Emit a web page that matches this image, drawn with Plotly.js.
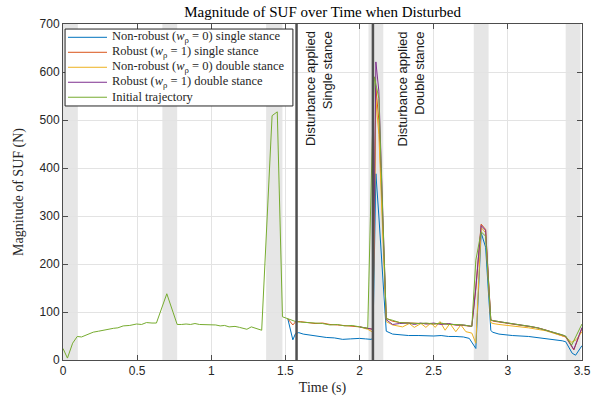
<!DOCTYPE html>
<html>
<head>
<meta charset="utf-8">
<script src="https://cdn.plot.ly/plotly-3.0.1.min.js"></script>
<style>html,body{margin:0;padding:0;background:#fff;}#chart{width:603px;height:401px;}</style>
</head>
<body>
<div id="chart"></div>
<script>
// ---- Data ----
const seriesNames = [
  "Non-robust (<i>w</i><sub>ρ</sub> = 0) single stance",
  "Robust (<i>w</i><sub>ρ</sub> = 1) single stance",
  "Non-robust (<i>w</i><sub>ρ</sub> = 0) double stance",
  "Robust (<i>w</i><sub>ρ</sub> = 1) double stance",
  "Initial trajectory"
];

// Initial trajectory
const tInit = [0,0.03,0.065,0.096,0.125,0.16,0.204,0.24,0.27,0.31,0.34,0.37,0.406,0.45,0.496,0.53,0.563,0.6,0.63,0.70,0.77,0.8,0.83,0.86,0.89,0.92,0.95,0.99,1.03,1.06,1.09,1.12,1.16,1.19,1.24,1.27,1.30,1.34,1.41,1.445,1.48,1.516,1.55,1.57,1.6,1.65,1.7,1.75,1.8,1.85,1.9,1.95,2.0,2.055,2.085,2.1,2.13,2.18,2.22,2.27,2.33,2.4,2.45,2.5,2.55,2.6,2.65,2.7,2.757,2.784,2.82,2.85,2.885,2.9,2.94,3.0,3.05,3.1,3.15,3.2,3.25,3.3,3.37,3.39,3.43,3.5];
const vInit = [24,4,35,49,48,53,58,60,62,64,66,67,71,72,75,74,78,77,77,138,74,74,75,74,76,74,74,73,73,71,72,69,70,68,64,69,66,62,509,517,90,86,81,80,79,78,77,76,73,74,71,72,69,66,450,590,545,86,83,78,77,76,77,75,77,74,74,73,70,208,267,258,83,82,80,77,75,73,70,67,63,58,52,50,31,75];

// Non-robust single stance
const tNRS = [1.516,1.55,1.568,1.59,1.62,1.685,1.73,1.775,1.83,1.886,1.94,2.0,2.04,2.077,2.09,2.11,2.13,2.18,2.223,2.27,2.33,2.4,2.45,2.5,2.55,2.6,2.65,2.7,2.74,2.784,2.82,2.85,2.885,2.896,2.94,3.03,3.14,3.255,3.367,3.39,3.434,3.457,3.5];
const vNRS = [86,42,55,57,54,51,50,47,46,43,44,45,44,43,45,388,300,60,54,52,51,51,50,50,51,49,49,48,45,24,265,235,62,58,54,51,49,45,40,38,14,10,30];

// Robust single stance
const tRS = [1.516,1.55,1.57,1.6,1.65,1.7,1.75,1.8,1.85,1.9,1.95,2.0,2.05,2.09,2.11,2.13,2.18,2.22,2.27,2.33,2.4,2.45,2.5,2.55,2.6,2.65,2.7,2.757,2.784,2.82,2.85,2.885,2.9,2.94,3.0,3.05,3.1,3.15,3.2,3.25,3.3,3.37,3.39,3.445,3.5];
const vRS = [86,73,80,80,78,76,77,74,73,72,71,69,66,64,566,500,87,81,78,77,76,76,75,76,74,73,72,70,150,283,272,84,81,79,77,75,72,70,67,63,58,51,48,21,66];

// Non-robust double stance
const tNRD = [2.0,2.055,2.09,2.11,2.13,2.18,2.223,2.29,2.335,2.369,2.414,2.447,2.481,2.51,2.542,2.577,2.609,2.649,2.683,2.717,2.757,2.784,2.82,2.85,2.885,2.9,2.94,3.03,3.14,3.255,3.367,3.39,3.43,3.46,3.5];
const vNRD = [69,64,58,542,470,80,73,69,76,68,76,68,77,68,80,62,76,59,73,59,56,35,276,265,78,76,74,71,67,61,51,48,37,42,59];

// Robust double stance
const tRD = [2.0,2.055,2.09,2.11,2.13,2.18,2.223,2.27,2.33,2.37,2.41,2.45,2.5,2.55,2.6,2.65,2.7,2.757,2.784,2.82,2.85,2.885,2.9,2.94,3.0,3.05,3.1,3.15,3.2,3.25,3.3,3.37,3.39,3.445,3.5];
const vRD = [69,66,64,621,560,84,74,76,77,74,77,75,77,74,76,73,73,70,150,280,270,83,82,80,77,75,72,70,67,63,58,52,49,22,68];

// Shaded support phases (start, end) in seconds
const bandStart = [0, 0.67, 1.37, 2.06, 2.77, 3.39];
const bandEnd   = [0.1, 0.77, 1.48, 2.16, 2.87, 3.49];

// Disturbance instants and labels
const disturbanceTimes = [1.575, 2.09];
const disturbanceLabels = ["Disturbance applied<br>Single stance", "Disturbance applied<br>Double stance"];

const xTickVals = [0,0.5,1,1.5,2,2.5,3,3.5];
const xTickText = ["0","0.5","1","1.5","2","2.5","3","3.5"];
const yTickVals = [0,100,200,300,400,500,600,700];

// ---- Styling ----
const colors = ["#0072BD","#D95319","#EDB120","#7E2F8E","#77AC30"];
const serif = "Liberation Serif, Times New Roman, serif";
const sans = "Liberation Sans, Arial, sans-serif";
const labelShift = [4, 20];

const xs = [tNRS, tRS, tNRD, tRD, tInit];
const ys = [vNRS, vRS, vNRD, vRD, vInit];

const traces = xs.map((x, i) => ({
  x: x, y: ys[i], type: "scatter", mode: "lines",
  name: seriesNames[i], showlegend: false,
  line: {color: colors[i], width: 1}
}));

const shapes = [];
bandStart.forEach((s, i) => {
  shapes.push({type: "rect", xref: "x", yref: "paper", x0: s, x1: bandEnd[i], y0: 0, y1: 1,
    fillcolor: "#e6e6e6", line: {width: 0}, layer: "below"});
});
disturbanceTimes.forEach(t => {
  shapes.push({type: "line", xref: "x", yref: "paper", x0: t, x1: t, y0: 0, y1: 1,
    line: {color: "#505050", width: 2.5}, layer: "above"});
});

const annotations = disturbanceTimes.map((t, i) => ({
  x: t, y: 1, xref: "x", yref: "paper", xanchor: "left", yanchor: "top",
  xshift: labelShift[i], yshift: -5, text: disturbanceLabels[i], showarrow: false,
  textangle: -90, align: "right",
  font: {family: sans, size: 13, color: "#1a1a1a"}
}));

// ---- Compact legend box (MATLAB style) ----
const legBox = {x0: 0.004, x1: 0.443, y0: 0.756, y1: 0.985};
const legRowTop = 0.9604, legRowStep = 0.0446;
const legLineX0 = 0.0096, legLineX1 = 0.0848, legTextX = 0.0905;
shapes.push({type: "rect", xref: "paper", yref: "paper", x0: legBox.x0, x1: legBox.x1, y0: legBox.y0, y1: legBox.y1,
  fillcolor: "#ffffff", line: {color: "#262626", width: 1}, layer: "above"});
seriesNames.forEach((nm, i) => {
  const yy = legRowTop - i * legRowStep;
  shapes.push({type: "line", xref: "paper", yref: "paper", x0: legLineX0, x1: legLineX1, y0: yy, y1: yy,
    line: {color: colors[i], width: 1}, layer: "above"});
  annotations.push({x: legTextX, y: yy, xref: "paper", yref: "paper", xanchor: "left", yanchor: "middle",
    text: nm, showarrow: false, font: {family: serif, size: 12.5, color: "#262626"}});
});

const axisCommon = {
  showline: true, linecolor: "#4d4d4d", linewidth: 1, mirror: "ticks",
  ticks: "inside", ticklen: 5, tickcolor: "#4d4d4d",
  showgrid: true, gridcolor: "#e3e3e3", gridwidth: 1, zeroline: false,
  tickfont: {family: sans, size: 12, color: "#262626"}
};

const layout = {
  width: 603, height: 401,
  margin: {l: 63, r: 21, t: 24, b: 41},
  paper_bgcolor: "#ffffff", plot_bgcolor: "#ffffff",
  title: {text: "Magnitude of SUF over Time when Disturbed", x: 0.535, xanchor: "center", y: 0.97, yanchor: "middle",
    font: {family: serif, size: 15, color: "#000"}},
  xaxis: Object.assign({}, axisCommon, {range: [0, 3.5], tickvals: xTickVals, ticktext: xTickText,
    title: {text: "Time (s)", font: {family: serif, size: 14, color: "#262626"}, standoff: 4}}),
  yaxis: Object.assign({}, axisCommon, {range: [0, 700], tickvals: yTickVals,
    title: {text: "Magnitude of SUF (N)", font: {family: serif, size: 14, color: "#262626"}, standoff: 12}}),
  shapes: shapes,
  annotations: annotations,
  showlegend: false
};

Plotly.newPlot("chart", traces, layout, {displayModeBar: false, staticPlot: true});
</script>
</body>
</html>
